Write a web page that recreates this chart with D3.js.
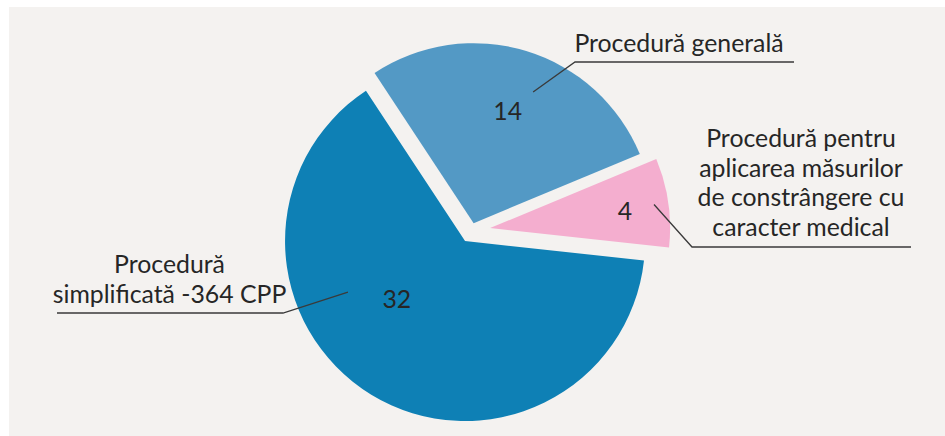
<!DOCTYPE html>
<html>
<head>
<meta charset="utf-8">
<script src="https://cdn.jsdelivr.net/npm/d3@7"></script>
<style>
  html, body { margin: 0; padding: 0; background: #fff; }
  svg { display: block; }
  text { font-family: Lato, "Open Sans", sans-serif; fill: #262626; }
</style>
</head>
<body>
<svg id="chart" width="945" height="436"></svg>
<script>
// data
const categories = [
  "Procedură generală",
  "Procedură pentru aplicarea măsurilor de constrângere cu caracter medical",
  "Procedură simplificată -364 CPP"
];
const values = [14, 4, 32];
const labelLines = [
  ["Procedură generală"],
  ["Procedură pentru", "aplicarea măsurilor", "de constrângere cu", "caracter medical"],
  ["Procedură", "simplificată -364 CPP"]
];
const palette = ["#5399c5", "#f4aecf", "#0e80b5"];

const W = 945, H = 436;
const svg = d3.select("#chart");
const deg = Math.PI / 180;

svg.append("rect")
  .attr("x", 9).attr("y", 7)
  .attr("width", W - 9).attr("height", H - 7)
  .attr("fill", "#f4f2f0");

const R = 180;
const cx = 471.3, cy = 230.8;
const start = -33.4 * deg;

const pie = d3.pie().sort(null).value(d => d)
  .startAngle(start).endAngle(start + 2 * Math.PI);
const arcs = pie(values);
const arc = d3.arc().innerRadius(0).outerRadius(R);
const color = d3.scaleOrdinal().domain(categories).range(palette);

// explode distance per slice, and label placement (fraction of radius, angle tweak)
const explode = [8, 19, 12];
const valPos = [{r: 0.647, a: 0}, {r: 0.755, a: 1}, {r: 0.5, a: 17.9}];
const callouts = [
  {r: 0.8, a: 7.4, elbow: [575, 62], end: 794, tx: 679, y0: 52},
  {r: 0.92, a: 0, elbow: [692, 247], end: 911, tx: 801, y0: 147},
  {r: 0.71, a: 35, elbow: [283, 313], end: 57, tx: 169.5, y0: 273}
];
const lineH = 29.5;
const fontSize = "24.8px";

function polar(c, r, a) {
  return [c[0] + r * Math.sin(a), c[1] - r * Math.cos(a)];
}

const slices = svg.append("g").selectAll("g")
  .data(arcs)
  .join("g")
  .each(function(d, i) {
    const mid = (d.startAngle + d.endAngle) / 2;
    d.center = polar([cx, cy], explode[i], mid);
    d.mid = mid;
  })
  .attr("transform", d => `translate(${d.center[0]},${d.center[1]})`);

slices.append("path")
  .attr("d", arc)
  .attr("fill", (d, i) => color(categories[i]));

// value labels
svg.append("g").selectAll("text")
  .data(arcs)
  .join("text")
  .attr("text-anchor", "middle")
  .attr("dy", "0.35em")
  .style("font-size", fontSize)
  .attr("x", (d, i) => polar(d.center, R * valPos[i].r, d.mid + valPos[i].a * deg)[0])
  .attr("y", (d, i) => polar(d.center, R * valPos[i].r, d.mid + valPos[i].a * deg)[1])
  .text(d => d.data);

// leader lines + category labels
const ann = svg.append("g");
arcs.forEach((d, i) => {
  const c = callouts[i];
  const p0 = polar(d.center, R * c.r, d.mid + c.a * deg);
  ann.append("polyline")
    .attr("points", [p0, c.elbow, [c.end, c.elbow[1]]].map(p => p.join(",")).join(" "))
    .attr("fill", "none")
    .attr("stroke", "#3a3a3a")
    .attr("stroke-width", 1.3);
  const t = ann.append("text")
    .attr("text-anchor", "middle")
    .style("font-size", fontSize);
  labelLines[i].forEach((line, j) => {
    t.append("tspan").attr("x", c.tx).attr("y", c.y0 + j * lineH).text(line);
  });
});
</script>
</body>
</html>
